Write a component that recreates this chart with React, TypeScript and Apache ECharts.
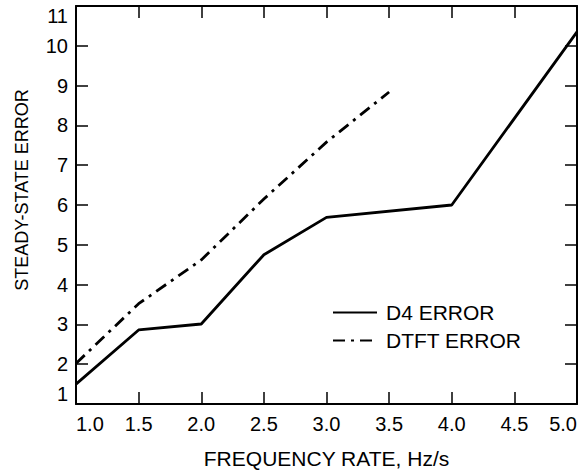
import React, { useEffect, useRef } from "react";
import * as echarts from "echarts";

const d4Freq = [1.0, 1.5, 2.0, 2.5, 3.0, 4.0, 5.0];
const d4Error = [1.5, 2.86, 3.01, 4.75, 5.69, 6.0, 10.35];
const dtftFreq = [1.0, 1.5, 2.0, 2.5, 3.0, 3.5];
const dtftError = [2.02, 3.52, 4.62, 6.15, 7.58, 8.84];
const seriesNames = ["D4 ERROR", "DTFT ERROR"];
const xAxisName = "FREQUENCY RATE, Hz/s";
const yAxisName = "STEADY-STATE ERROR";

const FONT = "'Liberation Sans', Arial, Helvetica, sans-serif";

export default function App() {
  const ref = useRef<HTMLDivElement>(null);
  useEffect(() => {
    if (!ref.current) return;
    const chart = echarts.init(ref.current, undefined, { renderer: "svg" });
    const axisLine = { show: true, onZero: false, lineStyle: { color: "#000", width: 2 } };
    const axisTick = { show: true, inside: true, length: 12, lineStyle: { color: "#000", width: 1.5 } };
    const baseX = { type: "value", min: 1, max: 5, interval: 0.5, splitLine: { show: false }, axisLine, axisTick };
    const baseY = { type: "value", min: 1, max: 11, interval: 1, splitLine: { show: false }, axisLine, axisTick };
    chart.setOption({
      animation: false,
      textStyle: { fontFamily: FONT, color: "#000" },
      grid: { left: 76, right: 0, top: 6, bottom: 68, containLabel: false },
      xAxis: [
        {
          ...baseX,
          position: "bottom",
          name: xAxisName,
          nameLocation: "middle",
          nameGap: 44,
          nameTextStyle: { fontSize: 21, color: "#000", fontFamily: FONT },
          axisLabel: {
            color: "#000",
            fontSize: 20,
            fontFamily: FONT,
            margin: 10,
            formatter: (v: number) => v.toFixed(1),
            alignMinLabel: "left",
            alignMaxLabel: "right",
          },
        },
        { ...baseX, position: "top", axisLabel: { show: false } },
      ],
      yAxis: [
        {
          ...baseY,
          position: "left",
          axisLabel: {
            color: "#000",
            fontSize: 20,
            fontFamily: FONT,
            margin: 8,
            verticalAlignMinLabel: "bottom",
            verticalAlignMaxLabel: "top",
          },
        },
        { ...baseY, position: "right", axisLabel: { show: false } },
      ],
      legend: {
        orient: "vertical",
        left: 332,
        top: 302,
        padding: 0,
        itemWidth: 44,
        itemHeight: 20,
        itemGap: 7,
        itemStyle: { opacity: 0 },
        textStyle: { fontSize: 21, color: "#000", fontFamily: FONT, padding: [0, 0, 0, 4] },
        data: seriesNames,
      },
      graphic: [
        {
          type: "text",
          x: 22,
          y: 190,
          rotation: Math.PI / 2,
          style: {
            text: yAxisName,
            fontSize: 18,
            fontFamily: FONT,
            fill: "#000",
            align: "center",
            verticalAlign: "middle",
          },
        },
      ],
      series: [
        {
          name: seriesNames[0],
          type: "line",
          symbol: "none",
          xAxisIndex: 0,
          yAxisIndex: 0,
          lineStyle: { color: "#000", width: 2.8 },
          itemStyle: { color: "#000" },
          data: d4Freq.map((x, i) => [x, d4Error[i]]),
        },
        {
          name: seriesNames[1],
          type: "line",
          symbol: "none",
          xAxisIndex: 0,
          yAxisIndex: 0,
          lineStyle: { color: "#000", width: 2.8, type: [12, 6, 3, 6], cap: "butt" },
          itemStyle: { color: "#000" },
          data: dtftFreq.map((x, i) => [x, dtftError[i]]),
        },
      ],
    });
    return () => chart.dispose();
  }, []);
  return (
    <div
      ref={ref}
      style={{ position: "fixed", left: 0, top: 0, width: 580, height: 474, background: "#fff" }}
    />
  );
}
